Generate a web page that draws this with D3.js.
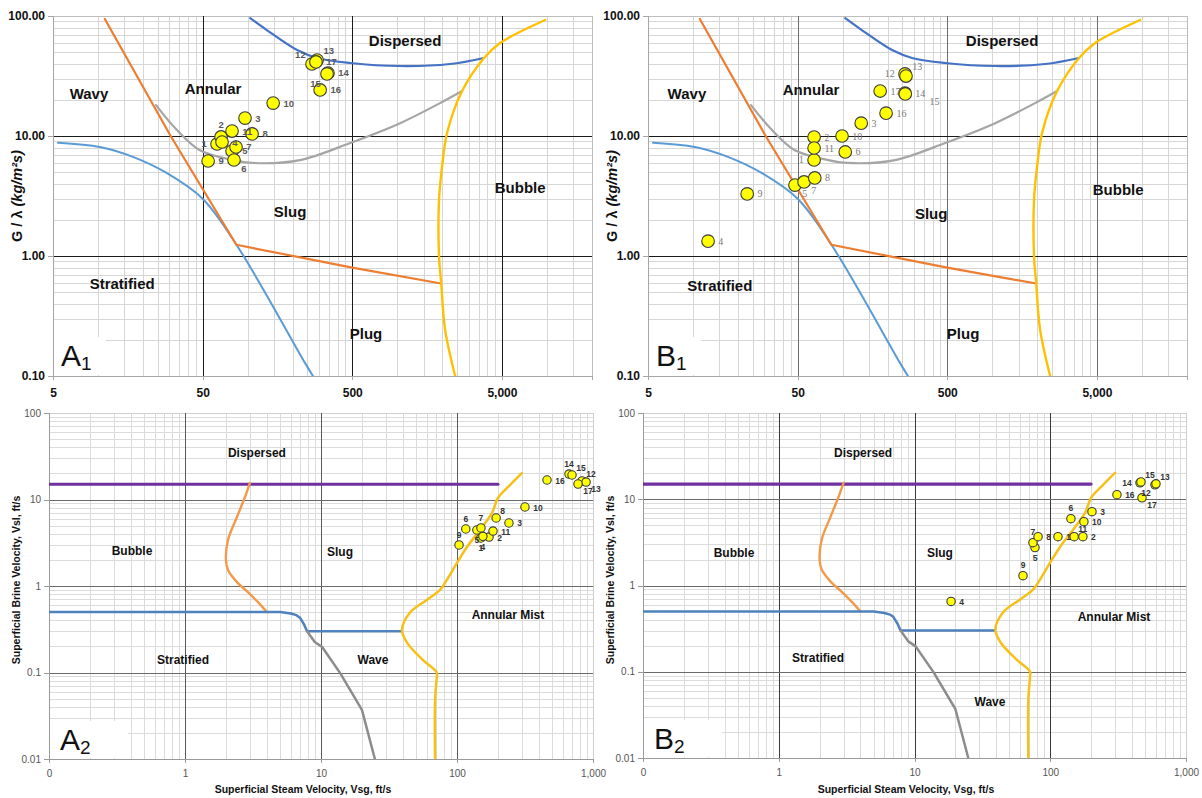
<!DOCTYPE html>
<html><head><meta charset="utf-8">
<script src="https://cdn.jsdelivr.net/npm/d3@7"></script>
<style>
body{margin:0;background:#fff;}
svg{display:block;font-family:"Liberation Sans",Arial,sans-serif;}
</style>
</head><body><svg id="c" width="1202" height="798"></svg>
<script>
// ---------------- DATA ----------------
// Map 1 (G/lambda vs Vsg-type chart) axis ticks
const map1XTicks = [5, 50, 500, 5000];
const map1XTickLabels = ["5", "50", "500", "5,000"];
const map1YTicks = [0.1, 1, 10, 100];
const map1YTickLabels = ["0.10", "1.00", "10.00", "100.00"];
// Map 2 axis ticks
const map2XTicks = [0.1, 1, 10, 100, 1000];
const map2XTickLabels = ["0", "1", "10", "100", "1,000"];
const map2YTicks = [0.01, 0.1, 1, 10, 100];
const map2YTickLabels = ["0.01", "0.1", "1", "10", "100"];

// Map 1 boundary curves [x, y]
const m1Orange = [[11.1,94.4],[30.3,10.2],[84,1.24],[500,0.8],[1960,0.59]];
const m1BlueLow = [[5.4,8.8],[10.3,8.1],[17.1,6.7],[28.9,4.9],[50,3.0],[86,1.19],[242,0.128],[273,0.1]];
const m1BlueHigh = [[104,96],[135,76],[214,52],[291,44.7],[484,40.6],[1045,38.3],[2250,39.8],[3800,44.7]];
const m1Gray = [[24.4,18.1],[33.7,11.2],[48,7.6],[80,6.3],[108,5.96],[224,6.3],[484,8.75],[1045,12.8],[1932,18.8],[2710,23.7]];
const m1Yellow = [[9725,92.6],[4865,59.6],[3800,44.7],[2710,23.7],[2150,10.6],[1990,5.52],[1900,2.93],[1900,1.0],[1963,0.6],[2087,0.242],[2435,0.1]];

// Map 2 boundary curves [x, y]
const m2Purple = [[0.1,15],[200,15]];
const m2Orange = [[3.0,15.5],[2.76,10.7],[2.41,6.28],[2.07,3.4],[2.0,2.0],[2.07,1.53],[2.41,1.11],[2.9,0.85],[3.44,0.65],[4.0,0.5]];
const m2Blue = [[0.1,0.5],[5,0.5],[6,0.48],[6.6,0.46],[7.0,0.43],[7.5,0.36],[7.9,0.3],[38.7,0.3]];
const m2Gray = [[7.9,0.3],[9.0,0.225],[10.2,0.197],[13.8,0.099],[20,0.037],[24.9,0.01]];
const m2Yellow = [[300,20.2],[245,14.7],[200,10.4],[181,7.0],[153,4.8],[118,2.8],[100,1.85],[84,1.17],[75,0.9],[60,0.69],[45,0.49],[39.4,0.31],[43,0.22],[56,0.14],[71,0.1],[71,0.089],[69,0.048],[69,0.01]];

// Test points [id, x, y]
const pointsA1 = [[1,62.4,8.58],[2,66.4,9.82],[3,96,14.1],[4,67.4,8.91],[5,78.6,7.5],[6,81,6.31],[7,83.6,8.1],[8,107,10.4],[9,54.4,6.19],[10,148,18.8],[11,78.6,11.0],[12,269,39.8],[13,291,43],[14,344,33.5],[15,339,32.9],[16,305,24.2],[17,286,41.4]];
const pointsB1 = [[1,64.4,6.31],[2,64.4,9.8],[3,133,12.8],[4,12.6,1.33],[5,48,3.9],[6,104,7.36],[7,55.2,4.14],[8,65.1,4.47],[9,23,3.29],[10,99,10.0],[11,64.4,7.94],[12,261,32.9],[13,265,31.6],[14,261,22.8],[15,262,22.4],[16,195,15.5],[17,178,23.7]];
const pointsA2 = [[1,150,3.59],[2,172,3.68],[3,241,5.35],[4,155,3.75],[5,140,4.44],[6,116,4.56],[7,150,4.69],[8,194,6.11],[9,103.5,2.98],[10,316,8.19],[11,184,4.32],[12,830,16.4],[13,889,15.9],[14,666,19.7],[15,701,19.2],[16,459,16.8],[17,776,15.1]];
const pointsB2 = [[1,114,3.68],[2,174,3.68],[3,203,7.17],[4,18.6,0.653],[5,77.2,2.75],[6,142,5.95],[7,74.6,3.14],[8,81.3,3.68],[9,63,1.3],[10,177,5.5],[11,150,3.68],[12,591,14.7],[13,601,15.1],[14,458,15.5],[15,466,15.9],[16,310,11.3],[17,474,10.4]];

// Region names (anchored in data coordinates)
const regionsA1 = [["Wavy",8.7,22.4],["Annular",58.7,25.1],["Dispersed",1127,63],["Slug",192,2.33],["Bubble",6620,3.69],["Stratified",14.5,0.585],["Plug",618,0.228]];
const regionsB1 = [["Wavy",9.1,22.4],["Annular",61.5,24.6],["Dispersed",1162,61.9],["Slug",390,2.28],["Bubble",6934,3.6],["Stratified",15.1,0.57],["Plug",638,0.228]];
const regionsA2 = [["Dispersed",3.38,34.5],["Bubble",0.408,2.54],["Slug",13.8,2.47],["Stratified",0.967,0.14],["Wave",24.1,0.14],["Annular Mist",237,0.462]];
const regionsB2 = [["Dispersed",4.18,34.5],["Bubble",0.468,2.41],["Slug",15.4,2.35],["Stratified",1.95,0.143],["Wave",36,0.0444],["Annular Mist",295,0.427]];

// label placement side for point numbers (default right)
const sideA1 = {1:"l",2:"t",6:"br",12:"tl",13:"tr",15:"bl"};
const sideB1 = {1:"l",5:"br",7:"br",12:"l",13:"tr",15:"br2"};
const sideA2 = {14:"t",15:"tr",12:"tr",17:"br",13:"br",8:"tr",7:"t",6:"t",5:"b",1:"b",4:"b",9:"t"};
const sideB2 = {14:"l",15:"tr",12:"bl",13:"tr",17:"br",6:"t",11:"tr",7:"t",5:"b",9:"t"};

// ---------------- DRAW ----------------
const svg = d3.select("#c");
svg.append("rect").attr("width",1202).attr("height",798).attr("fill","#fff");

function minorVals(bases, maxV) {
  const out = [];
  bases.forEach(b => { for (let k = 2; k <= 9; k++) { const v = b*k; if (v <= maxV*1.0001) out.push(v); } });
  return out;
}

function drawPanel(p) {
  const x = d3.scaleLog().domain(p.xDomain).range(p.xRange);
  const y = d3.scaleLog().domain(p.yDomain).range(p.yRange);
  const [x0, x1] = p.xRange, [y0, y1] = p.yRange;
  const g = svg.append("g");
  const clipId = "clip" + p.name;
  g.append("clipPath").attr("id", clipId).append("rect").attr("x", x0).attr("y", y1).attr("width", x1-x0).attr("height", y0-y1);

  // minor grid
  g.append("g").attr("transform", `translate(0,${y0})`)
    .call(d3.axisBottom(x).tickValues(p.minorX).tickSize(-(y0-y1)).tickFormat(""))
    .call(s => { s.select(".domain").remove(); s.selectAll("line").attr("stroke", p.minorColor).attr("shape-rendering","crispEdges"); });
  g.append("g").attr("transform", `translate(${x0},0)`)
    .call(d3.axisLeft(y).tickValues(p.minorY).tickSize(-(x1-x0)).tickFormat(""))
    .call(s => { s.select(".domain").remove(); s.selectAll("line").attr("stroke", p.minorColor).attr("shape-rendering","crispEdges"); });
  // frame
  g.append("rect").attr("x", x0).attr("y", y1).attr("width", x1-x0).attr("height", y0-y1)
    .attr("fill","none").attr("stroke", p.frameColor).attr("shape-rendering","crispEdges");
  // major grid
  g.append("g").attr("transform", `translate(0,${y0})`)
    .call(d3.axisBottom(x).tickValues(p.majorX).tickSize(-(y0-y1)).tickFormat(""))
    .call(s => { s.select(".domain").remove(); s.selectAll("line").attr("stroke", p.majorXColor).attr("shape-rendering","crispEdges"); });
  g.append("g").attr("transform", `translate(${x0},0)`)
    .call(d3.axisLeft(y).tickValues(p.majorY).tickSize(-(x1-x0)).tickFormat(""))
    .call(s => { s.select(".domain").remove(); s.selectAll("line").attr("stroke", p.majorYColor).attr("shape-rendering","crispEdges"); });

  // panel label box
  g.append("rect").attr("x", x0+1).attr("y", y0-p.boxH).attr("width", p.boxW).attr("height", p.boxH-1).attr("fill","#fff");
  const pl = g.append("text").attr("x", x0 + p.plDx).attr("y", y0 - p.plDy).attr("fill","#111")
    .style("font-size", "30px");
  pl.append("tspan").text(p.panelLetter);
  pl.append("tspan").attr("dy", 4).style("font-size","19px").text(p.panelSub);

  // axes with labels
  const ay = g.append("g").attr("transform", `translate(${x0},0)`)
    .call(d3.axisLeft(y).tickValues(p.yTicks).tickFormat((d,i) => p.yTickLabels[i]).tickSize(5).tickPadding(3));
  ay.select(".domain").attr("stroke", p.axisColor).attr("shape-rendering","crispEdges");
  ay.selectAll(".tick line").attr("stroke", p.axisColor).attr("shape-rendering","crispEdges");
  ay.selectAll("text").attr("fill", p.tickColor).style("font-family",'"Liberation Sans",Arial,sans-serif')
    .style("font-size", p.tickSize).style("font-weight", p.tickWeight);
  const ax = g.append("g").attr("transform", `translate(0,${y0})`)
    .call(d3.axisBottom(x).tickValues(p.xTicks).tickFormat((d,i) => p.xTickLabels[i]).tickSize(p.xTickLen).tickPadding(p.xTickPad));
  ax.select(".domain").attr("stroke", p.axisColor).attr("stroke-width", p.bottomW).attr("shape-rendering","crispEdges");
  ax.selectAll(".tick line").attr("stroke", p.axisColor).attr("shape-rendering","crispEdges");
  ax.selectAll("text").attr("fill", p.tickColor).style("font-family",'"Liberation Sans",Arial,sans-serif')
    .style("font-size", p.tickSize).style("font-weight", p.tickWeight);

  // curves
  const cg = g.append("g").attr("clip-path", `url(#${clipId})`);
  p.curves.forEach(c => {
    const line = d3.line().x(d => x(d[0])).y(d => y(d[1])).curve(c.curve);
    cg.append("path").attr("d", line(c.data)).attr("fill","none").attr("stroke", c.color)
      .attr("stroke-width", c.width).attr("stroke-linejoin","round").attr("stroke-linecap","round");
  });

  // region labels
  p.regions.forEach(r => {
    g.append("text").attr("x", x(r[1])).attr("y", y(r[2])).attr("text-anchor","middle")
      .attr("dominant-baseline","central").attr("fill","#111")
      .style("font-weight","bold").style("font-size", p.regionSize).text(r[0]);
  });

  // points
  const rr = p.pointR;
  g.selectAll(null).data(p.points).join("circle")
    .attr("cx", d => x(d[1])).attr("cy", d => y(d[2])).attr("r", rr)
    .attr("fill","#FFFF00").attr("stroke","#3a3a3a").attr("stroke-width",1.1);
  const off = {
    r:[rr+4, 3.5, "start"], l:[-(rr+4), 3.5, "end"], t:[0, -(rr+3), "middle"], b:[0, rr+9, "middle"],
    tr:[rr, -rr, "start"], tl:[-rr, -rr, "end"], br:[rr+1, rr+6, "start"], bl:[-rr, rr+7, "end"],
    br2:[rr+18, rr+5, "start"]
  };
  g.selectAll(null).data(p.points).join("text")
    .attr("x", d => x(d[1]) + off[p.sides[d[0]] || "r"][0])
    .attr("y", d => y(d[2]) + off[p.sides[d[0]] || "r"][1])
    .attr("text-anchor", d => off[p.sides[d[0]] || "r"][2])
    .attr("fill", p.ptLabelColor).style("font-family", p.ptLabelFont)
    .style("font-size", p.ptLabelSize).style("font-weight", p.ptLabelWeight)
    .text(d => d[0]);

  // axis titles
  if (p.map === 1) {
    g.append("text").attr("transform", `translate(${x0-31},196) rotate(-90)`).attr("text-anchor","middle")
      .attr("fill","#111").style("font-weight","bold").style("font-size","14.5px")
      .call(t => { t.append("tspan").text("G / λ "); t.append("tspan").style("font-style","italic").text("(kg/m²s)"); });
  } else {
    g.append("text").attr("transform", `translate(${x0-29},580) rotate(-90)`).attr("text-anchor","middle")
      .attr("fill","#111").style("font-weight","bold").style("font-size","10.5px")
      .text("Superficial Brine Velocity, Vsl, ft/s");
    g.append("text").attr("x", (x0+x1)/2 + 4 - 0).attr("y", 793).attr("text-anchor","middle")
      .attr("fill","#111").style("font-weight","bold").style("font-size","10.5px")
      .text("Superficial Steam Velocity, Vsg, ft/s")
      .attr("x", x0 + p.xTitleDx);
  }
}

const map1Common = {
  map:1, xDomain:[5,20000], yDomain:[0.1,100],
  minorX: minorVals([5,50,500,5000], 20000), minorY: minorVals([0.1,1,10], 100),
  majorX:[50,500,5000], majorY:[1,10],
  xTicks: map1XTicks, xTickLabels: map1XTickLabels, yTicks: map1YTicks, yTickLabels: map1YTickLabels,
  minorColor:"#d6d6d6", frameColor:"#bdbdbd", axisColor:"#a6a6a6", bottomW:1,
  tickColor:"#111", tickSize:"12px", tickWeight:"bold", xTickLen:4, xTickPad:8,
  regionSize:"15px", pointR:6.3, boxW:52, boxH:39, plDx:8, plDy:10,
  curves:[
    {data:m1BlueLow, color:"#5B9BD5", width:2, curve:d3.curveCatmullRom},
    {data:m1BlueHigh, color:"#4472C4", width:2.2, curve:d3.curveCatmullRom},
    {data:m1Gray, color:"#A5A5A5", width:2.2, curve:d3.curveCatmullRom},
    {data:m1Orange, color:"#ED7D31", width:2.2, curve:d3.curveLinear},
    {data:m1Yellow, color:"#FFC000", width:2.4, curve:d3.curveCatmullRom}
  ]
};
const map2Common = {
  map:2, xDomain:[0.1,1000], yDomain:[0.01,100],
  minorX: minorVals([0.1,1,10,100], 1000), minorY: minorVals([0.01,0.1,1,10], 100),
  majorX:[1,10,100], majorY:[0.1,1,10],
  xTicks: map2XTicks, xTickLabels: map2XTickLabels, yTicks: map2YTicks, yTickLabels: map2YTickLabels,
  minorColor:"#dcdcdc", frameColor:"#cfcfcf", axisColor:"#9a9a9a", bottomW:1.5,
  tickColor:"#555", tickSize:"10px", tickWeight:"normal", xTickLen:4, xTickPad:7,
  regionSize:"12px", pointR:4.2, boxW:78, boxH:38, plDx:11, plDy:9,
  majorXColor:"#5a5a5a", majorYColor:"#6a6a6a",
  ptLabelColor:"#333", ptLabelFont:'"Liberation Sans",Arial,sans-serif', ptLabelSize:"8.5px", ptLabelWeight:"bold",
  curves:[
    {data:m2Purple, color:"#7030A0", width:3.2, curve:d3.curveLinear},
    {data:m2Orange, color:"#F29A4A", width:2.4, curve:d3.curveCatmullRom},
    {data:m2Blue, color:"#4F81BD", width:2.5, curve:d3.curveLinear},
    {data:m2Gray, color:"#8C8C8C", width:2.5, curve:d3.curveLinear},
    {data:m2Yellow, color:"#F5C018", width:2.5, curve:d3.curveCatmullRom}
  ]
};

drawPanel(Object.assign({}, map1Common, {
  name:"A1", xRange:[53,592], yRange:[376,16], majorXColor:"#1a1a1a", majorYColor:"#1a1a1a",
  panelLetter:"A", panelSub:"1", points:pointsA1, sides:sideA1, regions:regionsA1,
  ptLabelColor:"#595959", ptLabelFont:'"Liberation Sans",Arial,sans-serif', ptLabelSize:"9.5px", ptLabelWeight:"bold"
}));
drawPanel(Object.assign({}, map1Common, {
  name:"B1", xRange:[648,1187], yRange:[376,16], majorXColor:"#6e6e6e", majorYColor:"#1a1a1a",
  panelLetter:"B", panelSub:"1", points:pointsB1, sides:sideB1, regions:regionsB1,
  ptLabelColor:"#7a7a7a", ptLabelFont:'"Liberation Serif",serif', ptLabelSize:"10px", ptLabelWeight:"normal"
}));
drawPanel(Object.assign({}, map2Common, {
  name:"A2", xRange:[49,593], yRange:[759,413], xTitleDx:254,
  panelLetter:"A", panelSub:"2", points:pointsA2, sides:sideA2, regions:regionsA2
}));
drawPanel(Object.assign({}, map2Common, {
  name:"B2", xRange:[643,1186], yRange:[758,413], xTitleDx:263, majorXColor:"#3a3a3a",
  panelLetter:"B", panelSub:"2", points:pointsB2, sides:sideB2, regions:regionsB2
}));
</script></body></html>
